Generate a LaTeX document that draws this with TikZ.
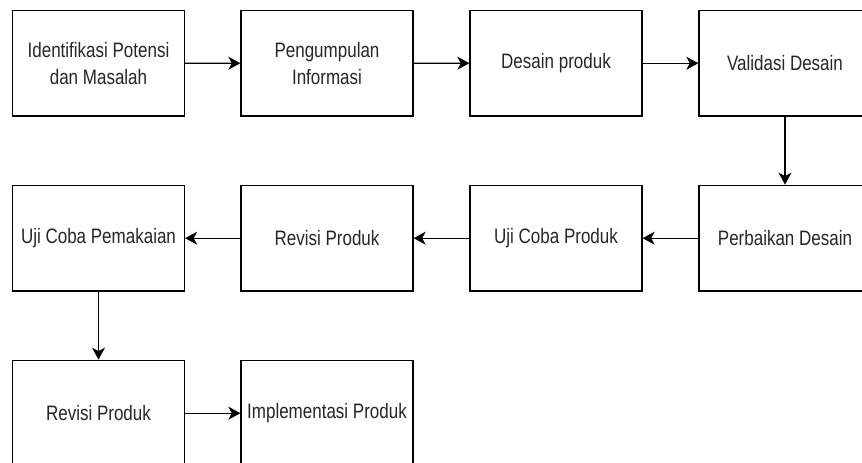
\documentclass[tikz,border=0pt]{standalone}
\usepackage{fontspec}
\setmainfont{Liberation Sans}
\usepackage{tikz}
\usetikzlibrary{arrows.meta}

\begin{document}
\begin{tikzpicture}[x=1pt, y=-1pt,
    every node/.style={align=center},
    stagebox/.style={draw, line width=1.3pt, minimum width=172pt, minimum height=85.8pt,
      inner sep=0pt, font=\fontsize{17}{21.7}\selectfont, text=black!85,
      yscale=1.23, transform shape},
    flowarrow/.style={-{Stealth[length=12pt, width=13pt, inset=3.5pt]}, line width=1.3pt}]

  \useasboundingbox (0,0) rectangle (862,463);
  \clip (0,0) rectangle (862,463);

  % ── Row 1: from potential to design validation ───────────────
  \node[stagebox] (potensi)  at (98.5,63.2) {Identifikasi Potensi\\dan Masalah};
  \node[stagebox] (info)     at (327,63.2)  {Pengumpulan\\Informasi};
  \node[stagebox] (desain)   at (556,63.2)  {Desain produk};
  \node[stagebox] (validasi) at (785,63.2)  {Validasi Desain};

  % ── Row 2: runs back from right to left ──────────────────────
  \node[stagebox] (pakai)    at (98.5,238.2) {Uji Coba Pemakaian};
  \node[stagebox] (revisiA)  at (327,238.2)  {Revisi Produk};
  \node[stagebox] (ujiprod)  at (556,238.2)  {Uji Coba Produk};
  \node[stagebox] (perbaikan) at (785,238.2) {Perbaikan Desain};

  % ── Row 3: last revision and implementation ──────────────────
  \node[stagebox] (revisiB)  at (98.5,413.2) {Revisi Produk};
  \node[stagebox] (impl)     at (327,413.2)  {Implementasi Produk};

  % ── Connectors ───────────────────────────────────────────────
  \draw[flowarrow] (potensi) -- (info);
  \draw[flowarrow] (info) -- (desain);
  \draw[flowarrow] (desain) -- (validasi);
  \draw[flowarrow] (validasi) -- (perbaikan);
  \draw[flowarrow] (perbaikan) -- (ujiprod);
  \draw[flowarrow] (ujiprod) -- (revisiA);
  \draw[flowarrow] (revisiA) -- (pakai);
  \draw[flowarrow] (pakai) -- (revisiB);
  \draw[flowarrow] (revisiB) -- (impl);

\end{tikzpicture}
\end{document}
